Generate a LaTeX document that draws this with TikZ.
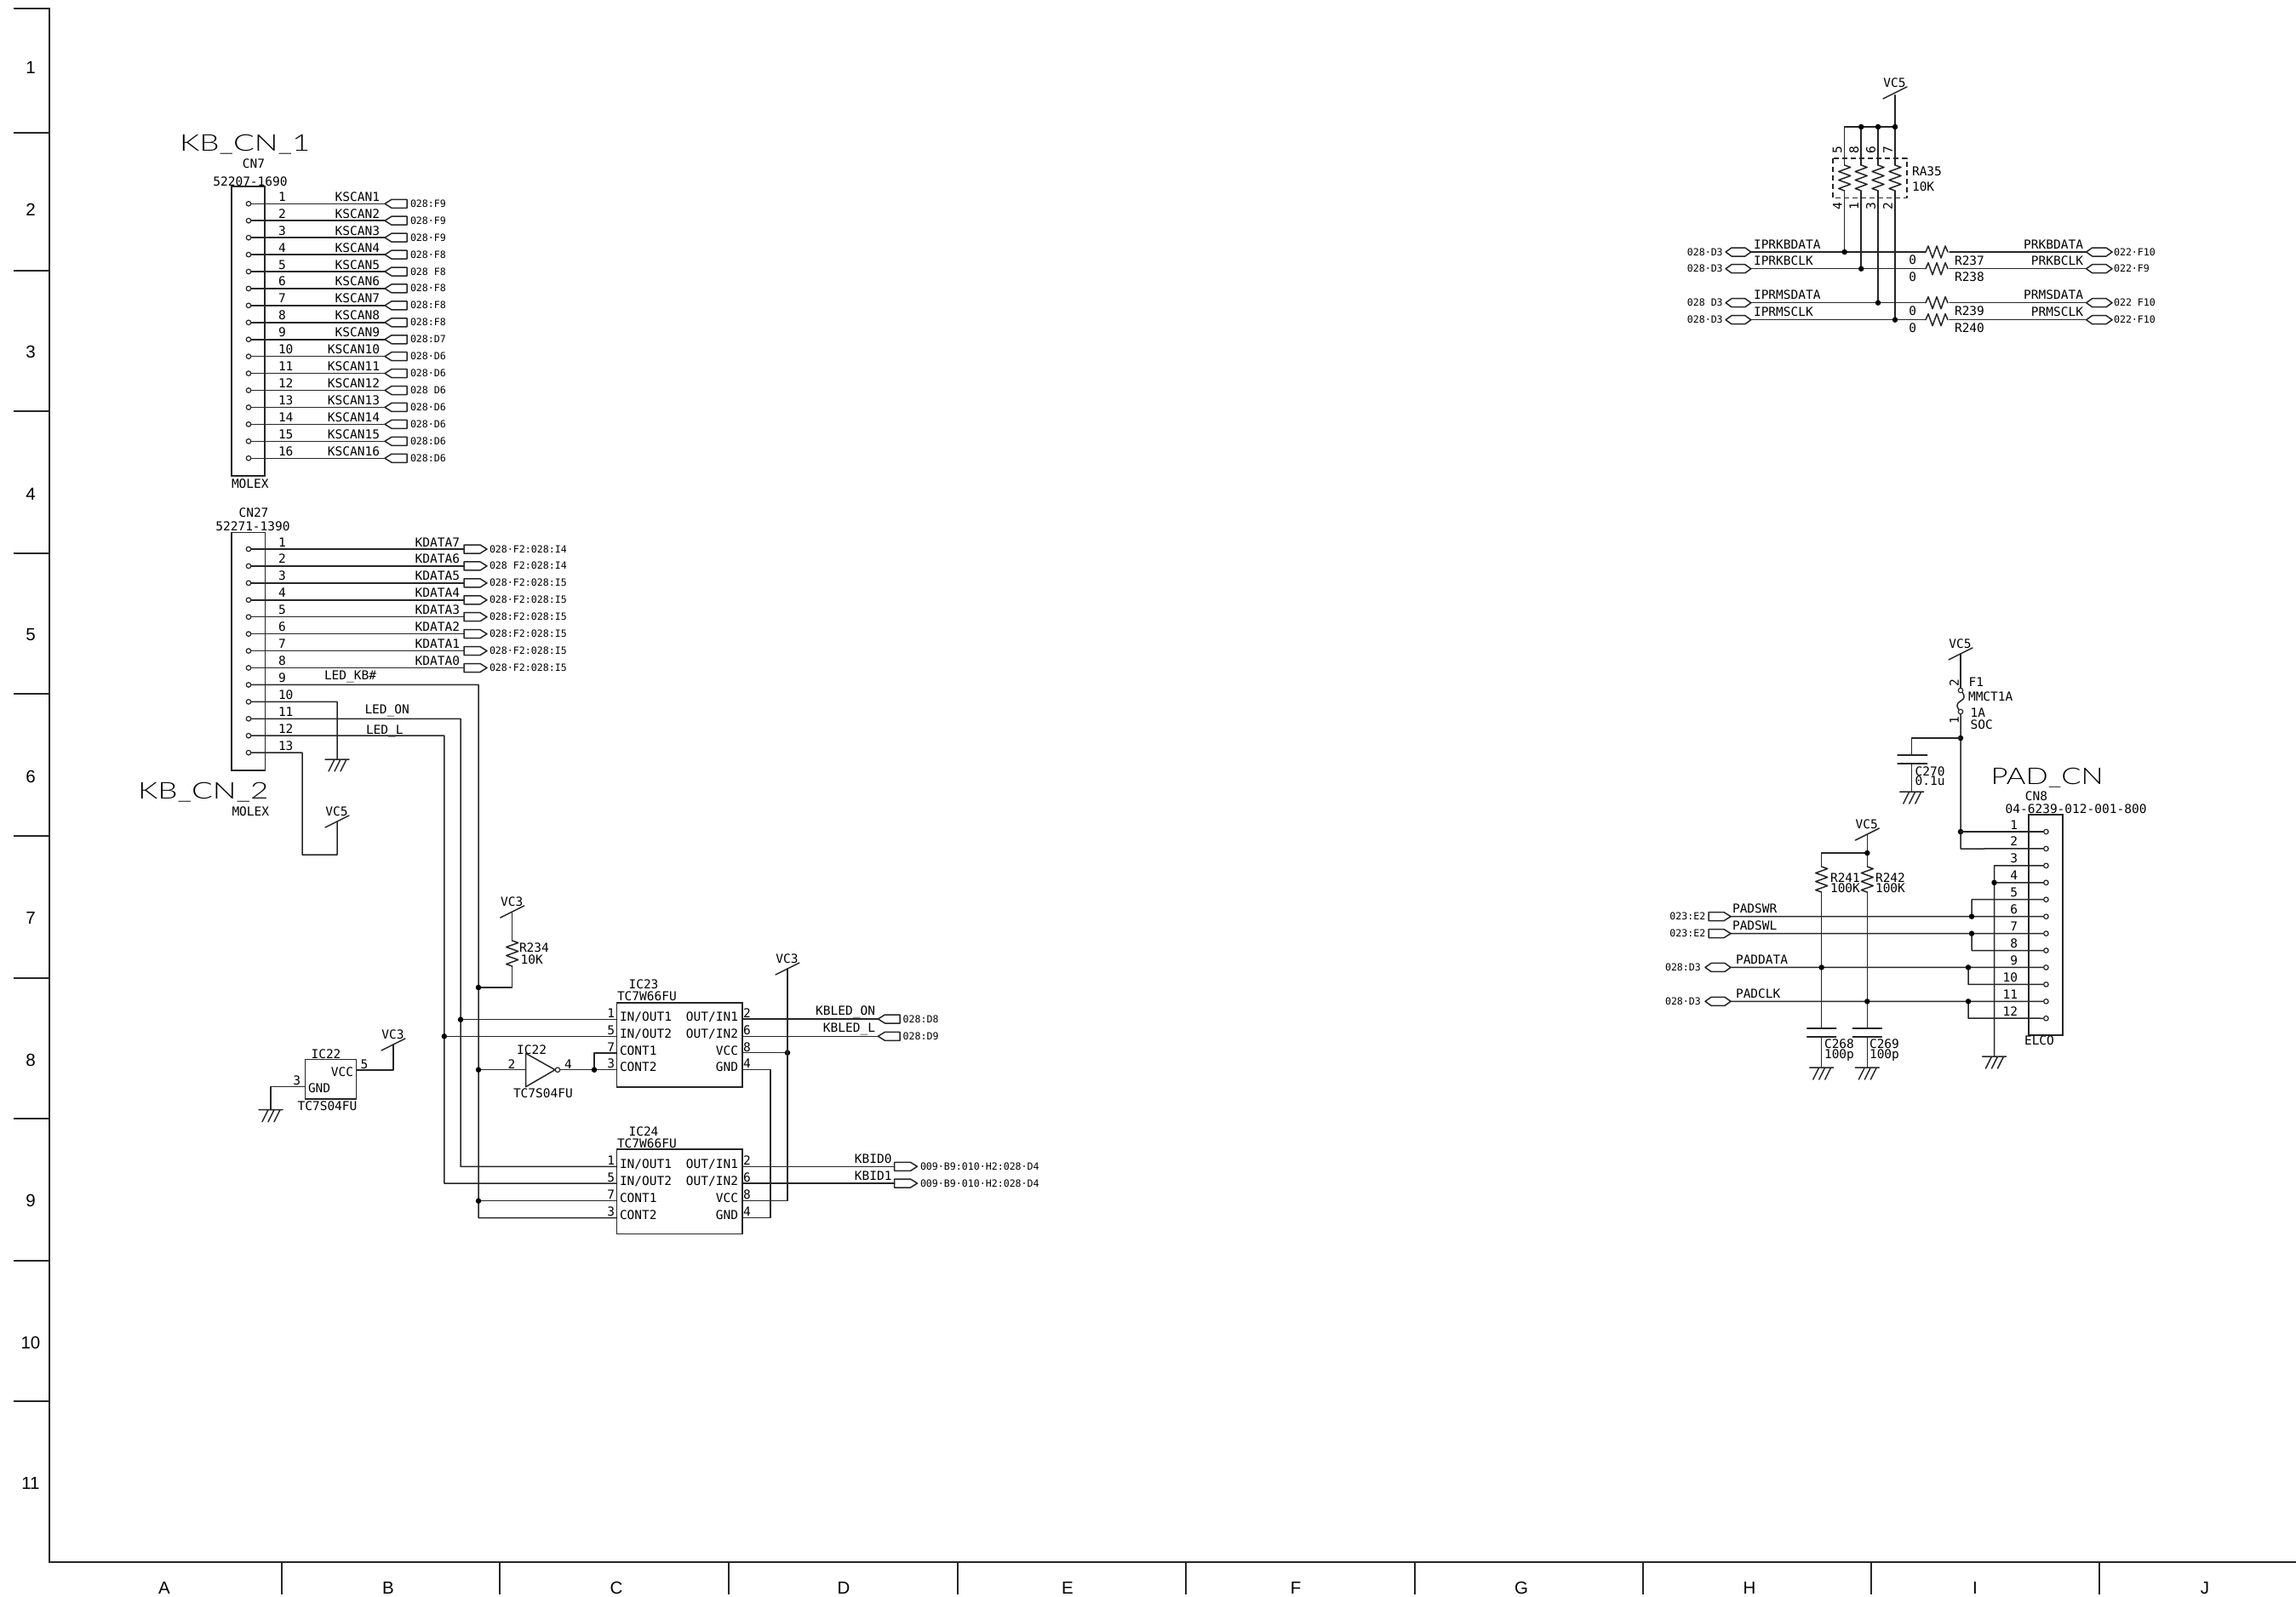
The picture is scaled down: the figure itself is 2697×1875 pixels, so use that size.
\documentclass[tikz,border=0pt]{standalone}
\usepackage{fontspec}
\setmainfont{DejaVu Sans Mono}
\newfontfamily\ttlfont{Lato Light}
\newfontfamily\gridfont{Liberation Sans}
\tikzset{
 x=1pt,y=-1pt,
 wire/.style={line width=1.5pt,black!85,line cap=round,line join=round},
 box/.style={line width=1.6pt,black!85},
 jdot/.style={circle,fill=black,inner sep=0pt,minimum size=6.5pt},
 pinc/.style={circle,draw=black!85,fill=white,line width=1.2pt,inner sep=0pt,minimum size=5.5pt},
 txt/.style={inner sep=0pt,outer sep=0pt,font=\fontsize{14.5}{14}\selectfont,text=black},
 tl/.style={txt,anchor=base west},
 tr/.style={txt,anchor=base east},
 tc/.style={txt,anchor=base},
 rot/.style={txt,anchor=center,rotate=90},
 sm/.style={inner sep=0pt,outer sep=0pt,anchor=base west,font=\fontsize{11.6}{12}\selectfont,text=black},
 big/.style={inner sep=0pt,outer sep=0pt,anchor=base west,font=\ttlfont\fontsize{27}{27}\selectfont,text=black},
 grid/.style={inner sep=0pt,outer sep=0pt,anchor=base,font=\gridfont\fontsize{20.5}{20}\selectfont,text=black},
}
% off-page shapes
\newcommand{\offLw}[4]{\coordinate (#1) at (#2,#3);\draw[wire,fill=white] (#2,#3) -- ++(8,-5) -- (#4,#3-5) -- (#4,#3+5) -- (#2+8,#3+5) -- cycle;}
\newcommand{\offR}[4]{\coordinate (#1) at (#2,#3);\draw[wire,fill=white] (#2,#3-5) -- (#4-8,#3-5) -- (#4,#3) -- (#4-8,#3+5) -- (#2,#3+5) -- cycle;}
\newcommand{\offH}[4]{\coordinate (#1) at (#2,#3);\draw[wire,fill=white] (#2,#3) -- (#2+7,#3-5) -- (#4-7,#3-5) -- (#4,#3) -- (#4-7,#3+5) -- (#2+7,#3+5) -- cycle;}
\newcommand{\pinC}[3]{\node[pinc] (#1) at (#2,#3) {};}
\newcommand{\jd}[2]{\node[jdot] at (#1,#2) {};}
\newcommand{\gnd}[2]{\draw[wire] (#1-14,#2) -- (#1+14,#2) (#1-3,#2) -- (#1-10,#2+14) (#1+4,#2) -- (#1-3,#2+14) (#1+11,#2) -- (#1+4,#2+14);}
\newcommand{\vcc}[3]{\draw[wire] (#1-14,#2+7) -- (#1+14,#2-7);\node[tc] at (#1-.5,#2-7) {#3};}
\newcommand{\resH}[2]{\draw[wire] (#1,#2) -- ++(3,-7) -- ++(5,14) -- ++(5,-14) -- ++(5,14) -- ++(5,-14) -- ++(3,7);}
\newcommand{\resV}[2]{\draw[wire] (#1,#2) -- ++(7,2.5) -- ++(-14,5) -- ++(14,5) -- ++(-14,5) -- ++(14,5) -- ++(-14,5) -- ++(7,2.5);}
\begin{document}
\begin{tikzpicture}
\useasboundingbox (0,0) rectangle (2697,1875);
\fill[white] (0,0) rectangle (2697,1875);
% frame
\draw[box] (16,10) -- (58,10) -- (58,1835) -- (2697,1835);
\foreach \i/\y in {1/79,2/246,3/413,4/580,5/745,6/912,7/1078,8/1245,9/1410,10/1577,11/1742}{
  \node[grid] at (36,\y+7.5) {\i};
}
\foreach \y in {156,318,483,650,815,982,1149,1314,1481,1646}{
  \draw[box] (16,\y) -- (58,\y);
}
\foreach \x in {331,587,856,1125,1393,1662,1930,2198,2466}{
  \draw[box] (\x,1835) -- (\x,1873);
}
\foreach \l/\x in {A/193,B/456,C/724,D/991,E/1254,F/1522,G/1787,H/2055,I/2320,J/2590}{
  \node[grid] at (\x,1872) {\l};
}
% ---- CN7
\node[big,xscale=1.36] at (211,177) {KB\_CN\_1};
\node[tc] at (298,197) {CN7};
\node[tc] at (294,218) {52207-1690};
\node[tl] at (272,573) {MOLEX};
\draw[box] (272,219) rectangle (311,559);
\foreach \i/\t/\c in {1/KSCAN1/028:F9,2/KSCAN2/028·F9,3/KSCAN3/028·F9,4/KSCAN4/028·F8,5/KSCAN5/028 F8,6/KSCAN6/028·F8,7/KSCAN7/028:F8,8/KSCAN8/028:F8,9/KSCAN9/028:D7,10/KSCAN10/028·D6,11/KSCAN11/028·D6,12/KSCAN12/028 D6,13/KSCAN13/028·D6,14/KSCAN14/028·D6,15/KSCAN15/028:D6,16/KSCAN16/028:D6}{
  \pgfmathsetmacro\yy{239.3+19.93*(\i-1)}
  \pinC{a\i}{292}{\yy}
  \offLw{oa\i}{452}{\yy}{478}
  \draw[wire] (a\i) -- (oa\i);
  \node[tl] at (327,\yy-3) {\i};
  \node[tr] at (446,\yy-3) {\t};
  \node[sm] at (482,\yy+4) {\c};
}
% ---- CN27
\node[tc] at (298,607) {CN27};
\node[tc] at (297,623) {52271-1390};
\draw[box] (272,625.5) rectangle (311.5,905);
\foreach \i/\t/\c in {1/KDATA7/028·F2:028:I4,2/KDATA6/028 F2:028:I4,3/KDATA5/028·F2:028:I5,4/KDATA4/028·F2:028:I5,5/KDATA3/028:F2:028:I5,6/KDATA2/028:F2:028:I5,7/KDATA1/028·F2:028:I5,8/KDATA0/028·F2:028:I5}{
  \pgfmathsetmacro\yy{645+19.93*(\i-1)}
  \pinC{b\i}{292}{\yy}
  \offR{ob\i}{545}{\yy}{572}
  \draw[wire] (b\i) -- (ob\i);
  \node[tl] at (327,\yy-3) {\i};
  \node[tr] at (540,\yy-3) {\t};
  \node[sm] at (575,\yy+4) {\c};
}
\foreach \i in {9,...,13}{
  \pgfmathsetmacro\yy{645+19.93*(\i-1)}
  \pinC{b\i}{292}{\yy}
  \node[tl] at (327,\yy-3) {\i};
}
\node[big,xscale=1.36] at (162,938) {KB\_CN\_2};
\node[tl] at (272.5,958) {MOLEX};
\node[tl] at (381,798) {LED\_KB\#};
\node[tl] at (428.5,838) {LED\_ON};
\node[tl] at (430,862) {LED\_L};
\coordinate (g10) at (396,892);
\draw[wire] (b10) -- (396,824.3) -- (g10);
\gnd{396}{892}
\coordinate (v13) at (396,965);
\draw[wire] (b13) -- (355,884.2) -- (355,1004) -- (396,1004) -- (v13);
\vcc{396}{965}{VC5}
% long buses
\draw[wire] (b9) -- (562,804.4) -- (562,1430.7) -- (724.6,1430.7);
\draw[wire] (b11) -- (541,844.3) -- (541,1370.3) -- (724.6,1370.3);
\draw[wire] (b12) -- (521.8,864.2) -- (521.8,1390) -- (724.6,1390);
% ---- IC23 / IC24
\foreach \n/\top/\a/\b/\c/\d in {IC23/1177.7/1197.7/1217.3/1237/1256.7,IC24/1350/1370.3/1390/1410.7/1430.7}{
  \node[tc] at (756,\top-16) {\n};
  \node[tl] at (725,\top-2) {TC7W66FU};
  \draw[box] (724.6,\top) rectangle (871.8,\top+99.5);
  \node[tl] at (728,\a+2) {IN/OUT1};
  \node[tl] at (728,\b+2) {IN/OUT2};
  \node[tl] at (728,\c+2) {CONT1};
  \node[tl] at (728,\d+2) {CONT2};
  \node[tr] at (867,\a+2) {OUT/IN1};
  \node[tr] at (867,\b+2) {OUT/IN2};
  \node[tr] at (867,\c+2) {VCC};
  \node[tr] at (867,\d+2) {GND};
  \node[tr] at (722,\a-2) {1};
  \node[tr] at (722,\b-2) {5};
  \node[tr] at (722,\c-2) {7};
  \node[tr] at (722,\d-2) {3};
  \node[tl] at (873,\a-2) {2};
  \node[tl] at (873,\b-2) {6};
  \node[tl] at (873,\c-2) {8};
  \node[tl] at (873,\d-2) {4};
}
% IC23 inputs
\draw[wire] (541,1197.7) -- (724.6,1197.7);
\draw[wire] (521.8,1217.3) -- (724.6,1217.3);
\jd{541}{1197.7}\jd{521.8}{1217.3}
\draw[wire] (562,1410.7) -- (724.6,1410.7);
\jd{562}{1410.7}
% R234
\draw[wire] (601.7,1071) -- (601.7,1105);
\draw[wire] (601.7,1135) -- (601.7,1160) -- (562,1160);
\jd{562}{1160}
\resV{601.7}{1105}
\vcc{601.7}{1071}{VC3}
\node[tl] at (610,1118.3) {R234};
\node[tl] at (611.7,1132.7) {10K};
% inverter
\node[tc] at (624.6,1238) {IC22};
\node[tl] at (603,1289) {TC7S04FU};
\draw[wire,fill=white] (617.5,1237.3) -- (652,1256.7) -- (617.5,1276.7) -- cycle;
\node[pinc] (invo) at (655,1256.7) {};
\draw[wire] (562,1256.7) -- (617.5,1256.7);
\jd{562}{1256.7}
\draw[wire] (invo) -- (724.6,1256.7);
\draw[wire] (698,1256.7) -- (698,1237) -- (724.6,1237);
\jd{698}{1256.7}
\node[tc] at (601,1255) {2};
\node[tc] at (667.5,1255) {4};
% IC23/24 outputs
\offLw{oc1}{1031.4}{1197}{1057}
\offLw{oc2}{1031.4}{1217.3}{1057}
\draw[wire] (871.8,1197) -- (oc1);
\draw[wire] (871.8,1217.3) -- (oc2);
\node[tr] at (1028,1192) {KBLED\_ON};
\node[tr] at (1028,1212.5) {KBLED\_L};
\node[sm] at (1060.7,1201.5) {028:D8};
\node[sm] at (1060.7,1221.5) {028:D9};
\draw[wire] (871.8,1236.7) -- (925,1236.7);
\jd{925}{1236.7}
\draw[wire] (925,1138) -- (925,1410.7) -- (871.8,1410.7);
\vcc{925}{1138}{VC3}
\draw[wire] (871.8,1256.7) -- (905,1256.7) -- (905,1430.7) -- (871.8,1430.7);
\offR{od1}{1050.7}{1370.3}{1077.5}
\offR{od2}{1050.7}{1390}{1077.5}
\draw[wire] (871.8,1370.3) -- (od1);
\draw[wire] (871.8,1390) -- (od2);
\node[tr] at (1047.5,1366) {KBID0};
\node[tr] at (1047.5,1386) {KBID1};
\node[sm] at (1081,1374.5) {009·B9:010·H2:028·D4};
\node[sm] at (1081,1394.5) {009·B9·010·H2:028·D4};
% IC22 power
\draw[box] (358.6,1244.3) rectangle (418.6,1290.7);
\node[tc] at (383,1243) {IC22};
\node[tl] at (349.6,1304) {TC7S04FU};
\node[tr] at (415,1264) {VCC};
\node[tl] at (362,1283) {GND};
\node[tl] at (423.6,1255) {5};
\node[tr] at (353,1274.7) {3};
\draw[wire] (418.6,1257) -- (462,1257) -- (462,1227);
\vcc{462}{1227}{VC3}
\draw[wire] (358.6,1276.7) -- (318,1276.7) -- (318,1303.7);
\gnd{318}{1303.7}
% ---- top right
\foreach \y/\a/\b/\c/\r/\cl/\cr in {296/IPRKBDATA/PRKBDATA/R237/0/028·D3/022·F10,315.7/IPRKBCLK/PRKBCLK/R238/0/028·D3/022·F9,355.7/IPRMSDATA/PRMSDATA/R239/0/028 D3/022 F10,375.7/IPRMSCLK/PRMSCLK/R240/0/028·D3/022·F10}{
  \offH{hl}{2027}{\y}{2056.8}
  \offH{hr}{2450.6}{\y}{2481}
  \draw[wire] (2056.8,\y) -- (2262,\y);
  \draw[wire] (2290,\y) -- (2450.6,\y);
  \resH{2262}{\y}
  \node[tl] at (2060,\y-4) {\a};
  \node[tr] at (2447,\y-4) {\b};
  \node[tl] at (2296,\y+15) {\c};
  \node[tc] at (2246.6,\y+14.5) {\r};
  \node[sm] at (1981.8,\y+4) {\cl};
  \node[sm] at (2483,\y+4) {\cr};
}
\draw[wire] (2166.7,149) -- (2226,149);
\draw[wire] (2226,111.7) -- (2226,149);
\vcc{2226}{109}{VC5}
\foreach \x/\yb/\t/\bo in {2166.7/296/5/4,2186.2/315.7/8/1,2206/355.7/6/3,2226/375.7/7/2}{
  \draw[wire] (\x,149) -- (\x,194);
  \draw[wire] (\x,224) -- (\x,\yb);
  \resV{\x}{194}
  \jd{\x}{\yb}
  \node[rot] at (\x-8.5,175.7) {\t};
  \node[rot] at (\x-8.5,242) {\bo};
}
\jd{2186.2}{149}\jd{2206}{149}\jd{2226}{149}
\draw[wire,line cap=butt,dash pattern=on 6pt off 4pt] (2153,186) rectangle (2240,232.7);
\node[tl] at (2246,206) {RA35};
\node[tl] at (2246,224) {10K};
% ---- PAD
\node[big,xscale=1.28] at (2338.5,921) {PAD\_CN};
\node[tc] at (2392,940) {CN8};
\node[tl] at (2355.6,955) {04-6239-012-001-800};
\draw[box] (2382.7,957) rectangle (2423,1216);
\node[tl] at (2378,1227) {ELCO};
\foreach \i in {1,...,12}{
  \pgfmathsetmacro\yy{977+19.93*(\i-1)}
  \pinC{p\i}{2403.4}{\yy}
  \node[tr] at (2370,\yy-3) {\i};
}
% power
\draw[wire] (2303,768) -- (2303,808.5);
\vcc{2303}{768}{VC5}
\pinC{f2}{2303}{811}
\pinC{f1}{2303}{836}
\draw[wire] (f2) .. controls (2308,817) and (2308,821) .. (2303,823.5) .. controls (2298,826) and (2298,830) .. (f1);
\draw[wire] (f1) -- (2303,997) -- (p2);
\node[rot] at (2295.5,802) {2};
\node[rot] at (2295.5,846) {1};
\node[tl] at (2312.7,806) {F1};
\node[tl] at (2312,823.5) {MMCT1A};
\node[tl] at (2314.6,842) {1A};
\node[tl] at (2314.6,856) {SOC};
\jd{2303}{867}
\draw[wire] (2303,867) -- (2245.7,867) -- (2245.7,887);
\draw[wire] (2229,887) -- (2263.7,887) (2229,897) -- (2263.7,897);
\draw[wire] (2245.7,897) -- (2245.7,930);
\gnd{2245.7}{930}
\node[tl] at (2249.6,911) {C270};
\node[tl] at (2249.6,922.5) {0.1u};
\jd{2303}{977}
\draw[wire] (2303,977) -- (p1);
% gnd pins
\draw[wire] (p3) -- (2342.5,1016.9) -- (2342.5,1241);
\draw[wire] (2342.5,1036.8) -- (p4);
\jd{2342.5}{1036.8}
\gnd{2342.5}{1241}
% data
\offR{q1}{2007}{1076.6}{2033}
\offR{q2}{2007}{1096.6}{2033}
\offH{q3}{2003}{1136.4}{2033}
\offH{q4}{2003}{1176.3}{2033}
\draw[wire] (2033,1076.6) -- (p6);
\draw[wire] (2033,1096.6) -- (p7);
\draw[wire] (2033,1136.4) -- (p9);
\draw[wire] (2033,1176.3) -- (p11);
\node[sm] at (1961.4,1080.5) {023:E2};
\node[sm] at (1961.4,1100.5) {023:E2};
\node[sm] at (1956,1140.5) {028:D3};
\node[sm] at (1956,1180.5) {028·D3};
\node[tl] at (2035,1072.5) {PADSWR};
\node[tl] at (2035,1092.5) {PADSWL};
\node[tl] at (2039,1132.5) {PADDATA};
\node[tl] at (2039,1172.5) {PADCLK};
\draw[wire] (p5) -- (2316,1056.7) -- (2316,1076.6);
\jd{2316}{1076.6}
\draw[wire] (p8) -- (2316,1116.5) -- (2316,1096.6);
\jd{2316}{1096.6}
\draw[wire] (p10) -- (2312,1156.4) -- (2312,1136.4);
\jd{2312}{1136.4}
\draw[wire] (p12) -- (2312,1196.2) -- (2312,1176.3);
\jd{2312}{1176.3}
% R241/R242
\draw[wire] (2193.3,980) -- (2193.3,1018);
\vcc{2193.3}{980}{VC5}
\draw[wire] (2139.7,1018) -- (2139.7,1002) -- (2193.3,1002);
\jd{2193.3}{1002}
\foreach \x/\r/\c/\lx/\cx in {2139.7/R241/C268/2150/2143,2193.3/R242/C269/2203/2196}{
  \resV{\x}{1018}
  \draw[wire] (\x,1048) -- (\x,1208);
  \draw[wire] (\x-17,1208) -- (\x+17,1208) (\x-17,1218) -- (\x+17,1218);
  \draw[wire] (\x,1218) -- (\x,1254);
  \gnd{\x}{1254}
  \node[tl] at (\lx,1036) {\r};
  \node[tl] at (\lx,1048) {100K};
  \node[tl] at (\cx,1231) {\c};
  \node[tl] at (\cx,1243) {100p};
}
\jd{2139.7}{1136.4}
\jd{2193.3}{1176.3}
\end{tikzpicture}
\end{document}
